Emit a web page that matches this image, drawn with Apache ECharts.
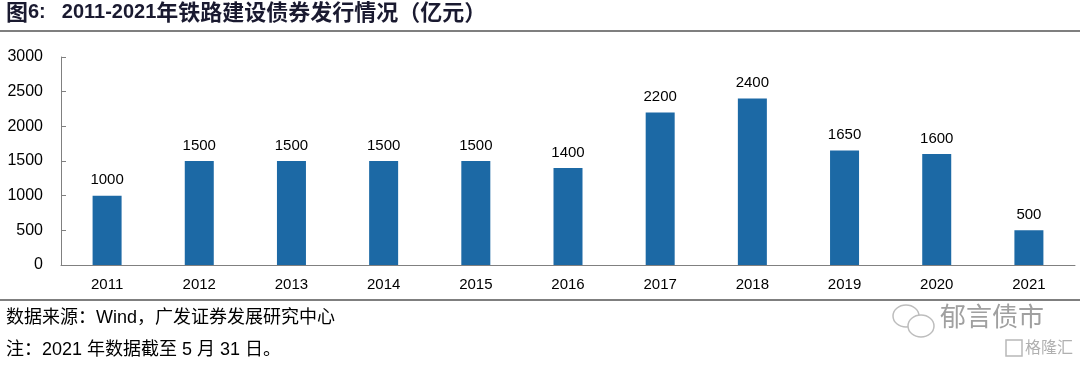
<!DOCTYPE html>
<html>
<head>
<meta charset="utf-8">
<script src="https://cdn.jsdelivr.net/npm/echarts@6/dist/echarts.min.js"></script>
<style>html,body{margin:0;padding:0;background:#fff;}#c{width:1080px;height:365px;}</style>
</head>
<body>
<div id="c"></div>
<script>
const categories = ['2011','2012','2013','2014','2015','2016','2017','2018','2019','2020','2021'];
const values = [1000,1500,1500,1500,1500,1400,2200,2400,1650,1600,500];
const yTicks = [0,500,1000,1500,2000,2500,3000];

const chart = echarts.init(document.getElementById('c'), null, {renderer:'canvas'});
const font = 'Arial, "Liberation Sans", "Noto Sans CJK SC", sans-serif';
const cjk = '"Noto Sans CJK SC", sans-serif';
chart.setOption({
  animation:false,
  backgroundColor:'#fff',
  grid:{left:61,right:5,top:57,bottom:100},
  xAxis:{type:'category',data:categories,
    axisLine:{lineStyle:{color:'#808080',width:1}},
    axisTick:{show:false},
    axisLabel:{color:'#000',fontSize:15,fontFamily:font,margin:12}},
  yAxis:{type:'value',min:yTicks[0],max:yTicks[yTicks.length-1],interval:yTicks[1]-yTicks[0],
    axisLine:{show:true,lineStyle:{color:'#808080',width:1}},
    axisTick:{show:true,inside:true,length:5,lineStyle:{color:'#808080'}},
    splitLine:{show:false},
    axisLabel:{color:'#000',fontSize:16,fontFamily:font,margin:18,formatter:v=>String(v)}},
  series:[{type:'bar',data:values,barWidth:29,
    itemStyle:{color:'#1C69A5'},
    label:{show:true,position:'top',distance:8,color:'#000',fontSize:15,fontFamily:font}}],
  graphic:[
    {type:'text',left:6,top:1,style:{
      text:'{c|图}{p|6:}{d|2011-2021}{c|年铁路建设债券发行情况（亿元）}',
      rich:{
        c:{font:'bold 22px '+cjk,fill:'#1a1a30'},
        p:{font:'bold 20px Arial, "Liberation Sans", sans-serif',fill:'#1a1a30',padding:[0,16,0,0]},
        d:{font:'bold 20px Arial, "Liberation Sans", sans-serif',fill:'#1a1a30'}
      }}},
    {type:'rect',shape:{x:0,y:30,width:1080,height:2},style:{fill:'#7f7f7f'}},
    {type:'rect',shape:{x:0,y:299,width:1080,height:2},style:{fill:'#7f7f7f'}},
    {type:'text',left:6,top:309,style:{text:'数据来源：Wind，广发证券发展研究中心',font:'18px '+font,fill:'#000'}},
    {type:'text',left:6,top:341,style:{text:'注：2021 年数据截至 5 月 31 日。',font:'18px '+font,fill:'#000'}},
    {type:'ellipse',shape:{cx:906,cy:316,rx:13,ry:11},style:{fill:'#fff',stroke:'#bdbdbd',lineWidth:1.5}},
    {type:'ellipse',shape:{cx:921,cy:326,rx:13,ry:11},style:{fill:'#fff',stroke:'#bdbdbd',lineWidth:1.5}},
    {type:'text',left:940,top:303,style:{text:'郁言债市',font:'26px '+cjk,fill:'#a0a0a0'}},
    {type:'rect',shape:{x:1006,y:340,width:16,height:16},style:{fill:'none',stroke:'#b8b8b8',lineWidth:1.5}},
    {type:'text',left:1025,top:339,style:{text:'格隆汇',font:'16px '+cjk,fill:'#b0b0b0'}}
  ]
});
</script>
</body>
</html>
